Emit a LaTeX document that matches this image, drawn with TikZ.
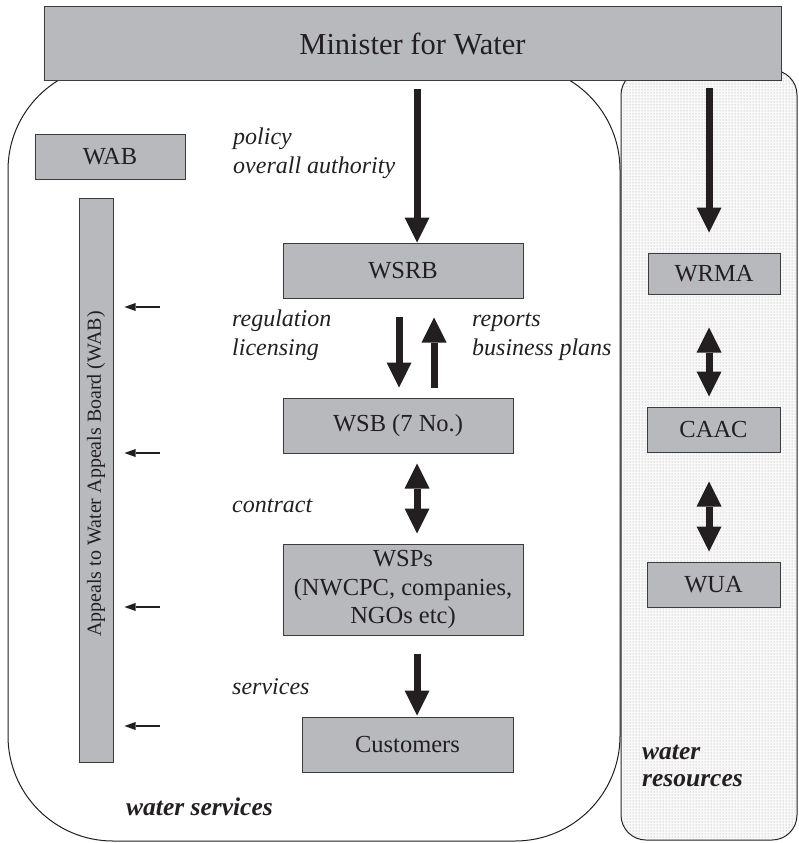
\documentclass[tikz,border=0pt]{standalone}
\usepackage{fontspec}
\setmainfont{LiberationSerif}[Extension=.ttf,UprightFont=*-Regular,ItalicFont=*-Italic,BoldFont=*-Bold,BoldItalicFont=*-BoldItalic]
\usetikzlibrary{arrows.meta,patterns}
\definecolor{boxgray}{RGB}{184,185,189}
\definecolor{ink}{RGB}{35,31,32}
\definecolor{edge}{RGB}{60,60,60}
\begin{document}
\begin{tikzpicture}[x=1pt,y=-1pt,
  box/.style={draw=edge,line width=1pt,fill=boxgray,inner sep=0pt,text=ink,
    font=\fontsize{24.5}{28.5}\selectfont,align=center},
  big/.style={line width=7pt,draw=ink,-{Triangle[width=25pt,length=25pt,line width=0pt]}},
  bigboth/.style={line width=7pt,draw=ink,
    {Triangle[width=25pt,length=25pt,line width=0pt]}-{Triangle[width=25pt,length=25pt,line width=0pt]}},
  small/.style={line width=1.2pt,draw=ink,-{Triangle[width=8pt,length=11pt,line width=0pt]}},
  lbl/.style={font=\fontsize{24}{28.5}\selectfont\itshape,text=ink,align=left,
    anchor=base west,inner sep=0pt},
  regionlbl/.style={font=\fontsize{25.5}{27}\selectfont\bfseries\itshape,text=ink,
    align=left,anchor=base west,inner sep=0pt}
]
\useasboundingbox (0,0) rectangle (799,843);

% regions
\draw[line width=1pt,draw=ink,rounded corners=105pt] (8,65) rectangle (620,841);
\draw[line width=1pt,draw=ink,rounded corners=25pt,fill=gray!5,
      postaction={pattern=dots,pattern color=gray!75}] (621,70) rectangle (797,840);

% boxes
\node[box,minimum width=737pt,minimum height=73pt,font=\fontsize{30.5}{34}\selectfont] (min) at (412.5,43.5) {Minister for Water};
\node[box,minimum width=150pt,minimum height=45pt] (wab) at (110,156.5) {WAB};
\node[box,minimum width=34pt,minimum height=564pt] (bar) at (96,480) {};
\node[rotate=90,inner sep=0pt,text=ink,font=\fontsize{20}{24}\selectfont] (appealtxt) at (96,474) {Appeals to Water Appeals Board (WAB)};
\node[box,minimum width=240pt,minimum height=55pt] (wsrb) at (403,270.5) {WSRB};
\node[box,minimum width=230pt,minimum height=55pt] (wsb) at (398,425.5) {WSB (7 No.)};
\node[box,minimum width=240pt,minimum height=91pt] (wsp) at (403,589.5) {WSPs\\(NWCPC, companies,\\NGOs etc)};
\node[box,minimum width=211pt,minimum height=55pt] (cust) at (407.5,744.5) {Customers};
\node[box,minimum width=132pt,minimum height=41pt] (wrma) at (714,273.5) {WRMA};
\node[box,minimum width=133pt,minimum height=45pt] (caac) at (713.5,429.5) {CAAC};
\node[box,minimum width=133pt,minimum height=45pt] (wua) at (713.5,584.5) {WUA};

% labels
\node[lbl] (lpolicy) at (233,173) {policy\\overall authority};
\node[lbl] (lreg) at (232,355) {regulation\\licensing};
\node[lbl] (lrep) at (472,355) {reports\\business plans};
\node[lbl] (lcon) at (232,512) {contract};
\node[lbl] (lserv) at (232,694) {services};
\node[regionlbl] (lws) at (126,815) {water services};
\node[regionlbl] (lwr) at (642,786) {water\\resources};

% big arrows
\coordinate (a1) at (417,89);
\draw[big] (a1) -- (a1 |- wsrb.north);
\draw[big,shorten <=18pt,shorten >=10pt] ([xshift=-4pt]wsrb.south) -- ([xshift=1pt]wsb.north);
\draw[big,shorten <=10pt,shorten >=19pt] ([xshift=36pt]wsb.north) -- ([xshift=31pt]wsrb.south);
\draw[bigboth,shorten <=10pt,shorten >=10pt] ([xshift=19pt]wsb.south) -- ([xshift=14pt]wsp.north);
\draw[big,shorten <=18pt,shorten >=1pt] ([xshift=14pt]wsp.south) -- ([xshift=9.5pt]cust.north);
\coordinate (a6) at (709,88);
\draw[big,shorten >=20pt] (a6) -- (a6 |- wrma.north);
\draw[bigboth,shorten <=33pt,shorten >=10pt] ([xshift=-5pt]wrma.south) -- ([xshift=-4.5pt]caac.north);
\draw[bigboth,shorten <=29pt,shorten >=10pt] ([xshift=-4.5pt]caac.south) -- ([xshift=-4.5pt]wua.north);

% small arrows
\foreach \yy/\nm in {307/s1,453/s2,607/s3,726/s4}{
  \coordinate (\nm) at (160,\yy);
  \draw[small,shorten >=11pt] (\nm) -- (\nm -| bar.east);
}
\end{tikzpicture}
\end{document}
